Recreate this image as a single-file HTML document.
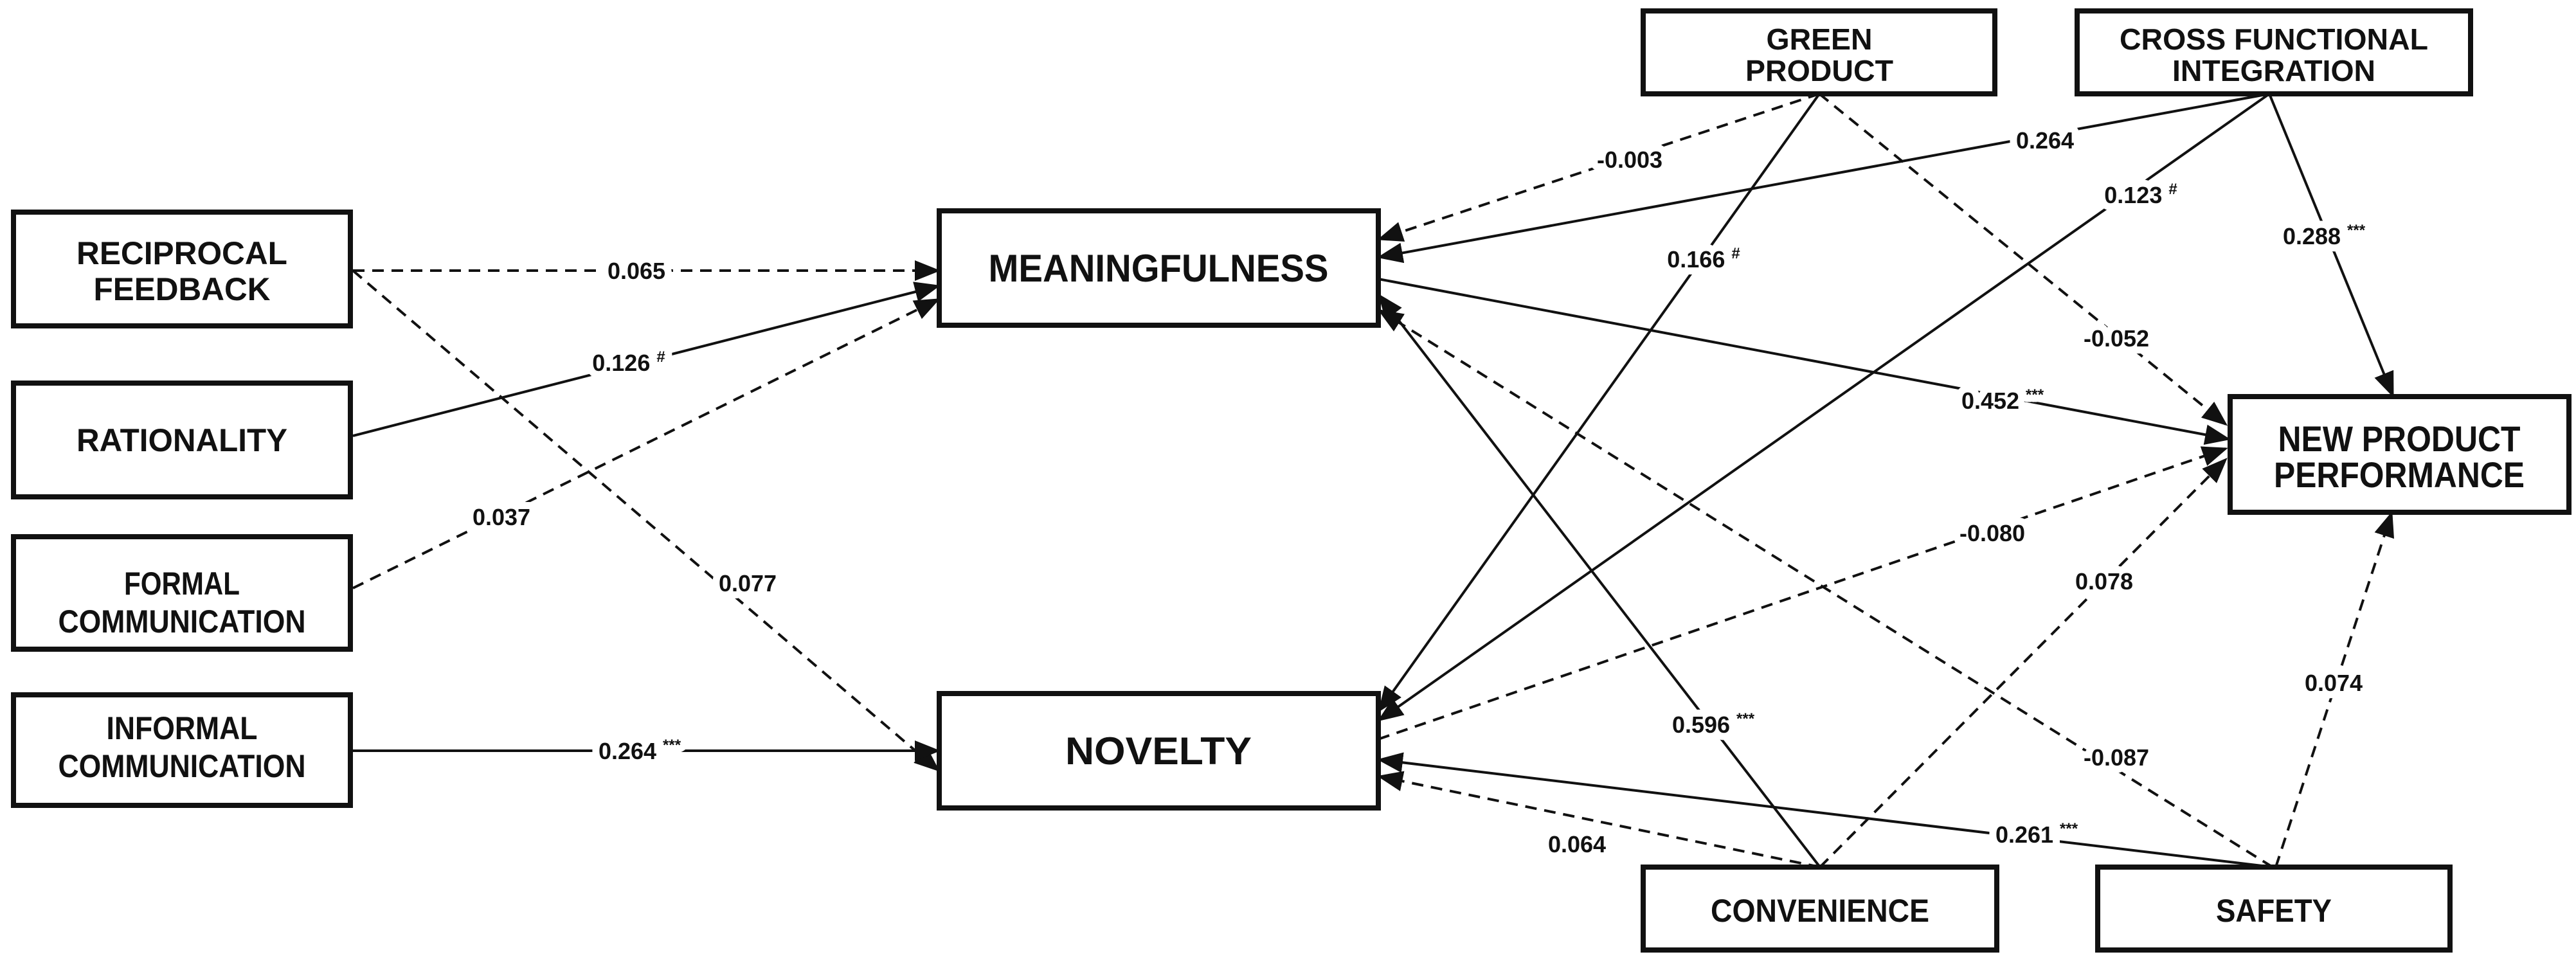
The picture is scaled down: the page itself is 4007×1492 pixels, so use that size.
<!DOCTYPE html>
<html><head><meta charset="utf-8"><style>
html,body{margin:0;padding:0;background:#fff;}
svg{display:block;}
.b{fill:#fff;stroke:#111;stroke-width:8;}
.t{font-family:"Liberation Sans",Arial,sans-serif;font-weight:bold;fill:#111;text-anchor:middle;}
.l{stroke:#111;stroke-width:4;fill:none;}
.d{stroke-dasharray:18 12;}
.e{font-family:"Liberation Sans",Arial,sans-serif;font-weight:bold;font-size:36px;fill:#111;text-anchor:middle;stroke:#fff;stroke-width:22px;paint-order:stroke;stroke-linejoin:round;}
.s{font-size:24px;}
</style></head><body>
<svg width="4007" height="1492" viewBox="0 0 4007 1492" xmlns="http://www.w3.org/2000/svg">
<defs><marker id="a" markerWidth="10" markerHeight="8" refX="9" refY="4" orient="auto" markerUnits="strokeWidth"><path d="M0,0 L10,4 L0,8 z" fill="#111"/></marker></defs>
<g marker-end="url(#a)">
<line class="l d" x1="549" y1="421" x2="1459" y2="421"/>
<line class="l d" x1="549" y1="421" x2="1459" y2="1198"/>
<line class="l" x1="549" y1="678" x2="1459" y2="445"/>
<line class="l d" x1="549" y1="915" x2="1459" y2="466"/>
<line class="l" x1="549" y1="1168" x2="1459" y2="1168"/>
<line class="l" x1="2144" y1="434" x2="3466" y2="683"/>
<line class="l d" x1="2830" y1="146" x2="2146" y2="372"/>
<line class="l" x1="2830" y1="146" x2="2146" y2="1105"/>
<line class="l d" x1="2830" y1="146" x2="3462" y2="660"/>
<line class="l" x1="3530" y1="146" x2="2146" y2="400"/>
<line class="l" x1="3530" y1="146" x2="2146" y2="1120"/>
<line class="l" x1="3530" y1="146" x2="3722" y2="615"/>
<line class="l" x1="2831" y1="1349" x2="2146" y2="460"/>
<line class="l d" x1="2831" y1="1349" x2="2146" y2="1208"/>
<line class="l d" x1="2831" y1="1349" x2="3462" y2="715"/>
<line class="l d" x1="3535" y1="1349" x2="2146" y2="483"/>
<line class="l" x1="3535" y1="1349" x2="2146" y2="1182"/>
<line class="l d" x1="3540" y1="1349" x2="3720" y2="799"/>
<line class="l d" x1="2144" y1="1150" x2="3462" y2="698"/>
</g>
<rect class="b" x="21" y="330" width="524" height="177"/>
<rect class="b" x="21" y="596" width="524" height="177"/>
<rect class="b" x="21" y="835" width="524" height="175"/>
<rect class="b" x="21" y="1081" width="524" height="172"/>
<rect class="b" x="1461" y="328" width="683" height="178"/>
<rect class="b" x="1461" y="1079" width="683" height="178"/>
<rect class="b" x="2556" y="17" width="547" height="129"/>
<rect class="b" x="3231" y="17" width="612" height="129"/>
<rect class="b" x="3469" y="617" width="527" height="180"/>
<rect class="b" x="2556" y="1349" width="550" height="129"/>
<rect class="b" x="3263" y="1349" width="548" height="129"/>
<g class="t" font-size="50">
<text x="283" y="411" textLength="328" lengthAdjust="spacingAndGlyphs">RECIPROCAL</text>
<text x="283" y="467" textLength="275" lengthAdjust="spacingAndGlyphs">FEEDBACK</text>
<text x="283" y="702" textLength="328" lengthAdjust="spacingAndGlyphs">RATIONALITY</text>
<text x="283" y="925" textLength="180" lengthAdjust="spacingAndGlyphs">FORMAL</text>
<text x="283" y="984" textLength="385" lengthAdjust="spacingAndGlyphs">COMMUNICATION</text>
<text x="283" y="1150" textLength="235" lengthAdjust="spacingAndGlyphs">INFORMAL</text>
<text x="283" y="1209" textLength="385" lengthAdjust="spacingAndGlyphs">COMMUNICATION</text>
<text x="1802" y="438" font-size="60" textLength="529" lengthAdjust="spacingAndGlyphs">MEANINGFULNESS</text>
<text x="1802" y="1189" font-size="60" textLength="290" lengthAdjust="spacingAndGlyphs">NOVELTY</text>
<text x="2830" y="77" font-size="46" textLength="165" lengthAdjust="spacingAndGlyphs">GREEN</text>
<text x="2830" y="126" font-size="46" textLength="230" lengthAdjust="spacingAndGlyphs">PRODUCT</text>
<text x="3537" y="77" font-size="46" textLength="480" lengthAdjust="spacingAndGlyphs">CROSS FUNCTIONAL</text>
<text x="3537" y="126" font-size="46" textLength="316" lengthAdjust="spacingAndGlyphs">INTEGRATION</text>
<text x="3732" y="702" font-size="56" textLength="377" lengthAdjust="spacingAndGlyphs">NEW PRODUCT</text>
<text x="3732" y="758" font-size="56" textLength="390" lengthAdjust="spacingAndGlyphs">PERFORMANCE</text>
<text x="2831" y="1434" textLength="340" lengthAdjust="spacingAndGlyphs">CONVENIENCE</text>
<text x="3537" y="1434" textLength="180" lengthAdjust="spacingAndGlyphs">SAFETY</text>
</g>
<g class="e">
<text x="990" y="434">0.065</text>
<text x="978" y="577">0.126 <tspan class="s" dy="-14">#</tspan></text>
<text x="780" y="817">0.037</text>
<text x="1163" y="920">0.077</text>
<text x="995" y="1181">0.264 <tspan class="s" dy="-14">***</tspan></text>
<text x="3115" y="636">0.452 <tspan class="s" dy="-14">***</tspan></text>
<text x="2535" y="261">-0.003</text>
<text x="2650" y="416">0.166 <tspan class="s" dy="-14">#</tspan></text>
<text x="3292" y="539">-0.052</text>
<text x="3181" y="231">0.264</text>
<text x="3330" y="316">0.123 <tspan class="s" dy="-14">#</tspan></text>
<text x="3615" y="380">0.288 <tspan class="s" dy="-14">***</tspan></text>
<text x="2665" y="1140">0.596 <tspan class="s" dy="-14">***</tspan></text>
<text x="2453" y="1326">0.064</text>
<text x="3273" y="917">0.078</text>
<text x="3292" y="1191">-0.087</text>
<text x="3168" y="1311">0.261 <tspan class="s" dy="-14">***</tspan></text>
<text x="3630" y="1075">0.074</text>
<text x="3099" y="842">-0.080</text>
</g>
</svg>
</body></html>
